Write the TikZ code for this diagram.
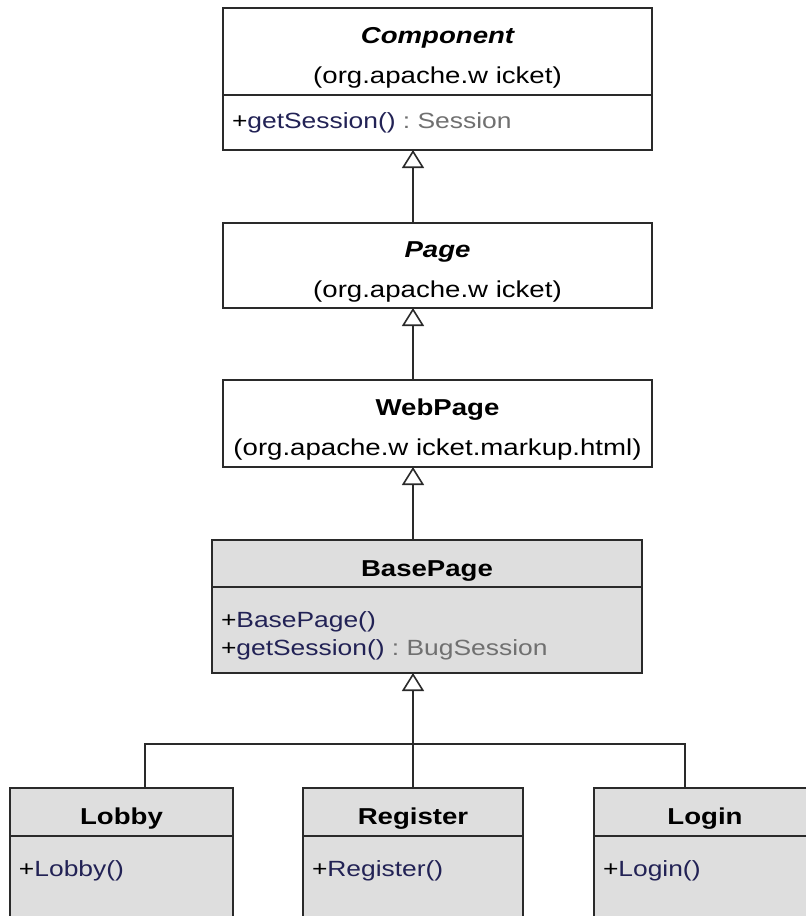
\documentclass[tikz,border=0pt]{standalone}
\usepackage{fontspec}
\setmainfont{Liberation Sans}[FakeStretch=1.2]
\usetikzlibrary{positioning,arrows.meta}

\definecolor{linecol}{HTML}{2A2A2A}
\definecolor{boxgray}{HTML}{DEDEDE}
\definecolor{opblue}{HTML}{222255}
\definecolor{typegray}{HTML}{707070}

% operations: "+" in black, name in blue, return type in grey
\newcommand{\opname}[1]{+\textcolor{opblue}{#1}}
\newcommand{\optype}[1]{\textcolor{typegray}{\ :\ #1}}
% struts that push the text down a little inside its compartment
\newcommand{\headstrut}{\rule{0pt}{29pt}}
\newcommand{\namestrut}{\rule{0pt}{30pt}}
\newcommand{\opstrut}[1]{\rule{0pt}{#1}}

\begin{document}
\begin{tikzpicture}[node distance=73pt, >=Triangle]

\tikzset{
  head/.style={
    rectangle, draw=linecol, line width=1.8pt, fill=white,
    align=center, inner sep=0pt, outer sep=0pt,
    font=\fontsize{23}{40}\selectfont
  },
  body/.style={
    rectangle, draw=linecol, line width=1.8pt, fill=white,
    align=left, inner xsep=9pt, inner ysep=0pt, outer sep=0pt,
    font=\fontsize{22}{28}\selectfont
  },
  grayed/.style={fill=boxgray},
  inherit/.style={draw=linecol, line width=1.6pt,
    -{Triangle[open, width=22pt, length=18pt, fill=white]}},
  link/.style={draw=linecol, line width=1.6pt}
}

\useasboundingbox (0,0) rectangle (806pt,-916pt);

% ---------- framework classes ----------
\node[head, minimum width=429pt, minimum height=87pt] (comp) at (437.5pt,-51.5pt)
  {\headstrut{\bfseries\itshape Component}\\(org.apache.w icket)};
\node[body, text width=411pt, minimum height=55pt, below=0pt of comp] (compm)
  {\opname{getSession()}\optype{Session}};

\node[head, minimum width=429pt, minimum height=85pt, below=of compm] (page)
  {\headstrut{\bfseries\itshape Page}\\(org.apache.w icket)};

\node[head, minimum width=429pt, minimum height=87pt, below=72pt of page] (web)
  {\headstrut{\bfseries WebPage}\\(org.apache.w icket.markup.html)};

% ---------- application classes ----------
\node[head, grayed, minimum width=430pt, minimum height=47pt,
      below=of web, xshift=-10.5pt] (base) {\namestrut\bfseries BasePage};
\node[body, grayed, text width=412pt, minimum height=86pt, below=0pt of base] (basem)
  {\opstrut{27pt}\opname{BasePage()}\\\opname{getSession()}\optype{BugSession}};

\node[head, grayed, minimum width=220pt, minimum height=48pt,
      below=115pt of basem, xshift=-14pt] (register) {\namestrut\bfseries Register};
\node[head, grayed, minimum width=223pt, minimum height=48pt,
      left=70pt of register] (lobby) {\namestrut\bfseries Lobby};
\node[head, grayed, minimum width=222pt, minimum height=48pt,
      right=71pt of register] (login) {\namestrut\bfseries Login};

\node[body, grayed, text width=202pt, minimum height=86pt, below=0pt of register] (registerm)
  {\opstrut{23pt}\opname{Register()}\\~};
\node[body, grayed, text width=205pt, minimum height=86pt, below=0pt of lobby] (lobbym)
  {\opstrut{23pt}\opname{Lobby()}\\~};
\node[body, grayed, text width=204pt, minimum height=86pt, below=0pt of login] (loginm)
  {\opstrut{23pt}\opname{Login()}\\~};

% ---------- generalisations ----------
\draw[inherit] (page.north -| register) -- (compm.south -| register);
\draw[inherit] (web.north -| register) -- (page.south -| register);
\draw[inherit] (base.north -| register) -- (web.south -| register);

\coordinate (bar) at ([yshift=44pt]register.north);
\draw[inherit] (register.north) -- (basem.south -| register);
\draw[link] ([xshift=23.5pt]lobby.north) |- (bar) -| ([xshift=-20pt]login.north);

\end{tikzpicture}
\end{document}
